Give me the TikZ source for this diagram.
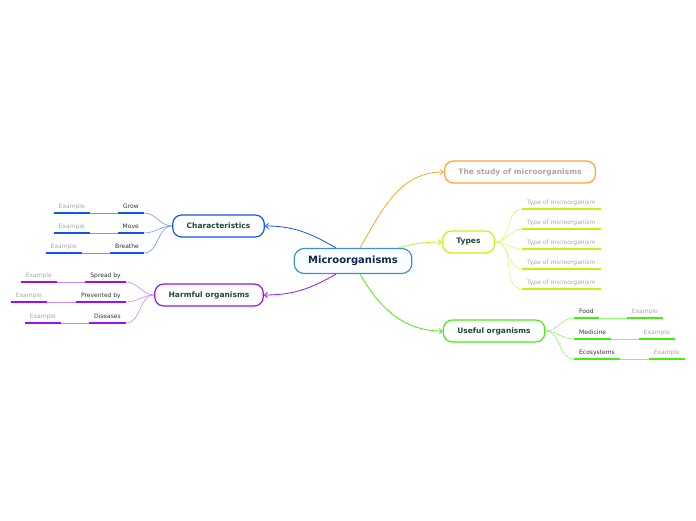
\documentclass[tikz,border=0pt]{standalone}
\usepackage{fontspec}
\setmainfont{DejaVu Sans}
\usepackage{tikz}
\usetikzlibrary{arrows.meta,positioning}
\definecolor{centerblue}{HTML}{3D8FD6}
\definecolor{centerfill}{HTML}{FAFDFF}
\definecolor{navy}{HTML}{14264F}
\definecolor{darkteal}{HTML}{1A4A3C}
\definecolor{studyorange}{HTML}{FFA42C}
\definecolor{typesyellow}{HTML}{CCEE11}
\definecolor{usefulgreen}{HTML}{44EE11}
\definecolor{charblue}{HTML}{1155EE}
\definecolor{harmpurple}{HTML}{9911EE}
\definecolor{leafgray}{HTML}{A8A8A8}
\definecolor{leafdark}{HTML}{333333}
\tikzset{
	central/.style={
		draw=centerblue, fill=centerfill, line width=1.2pt,
		rounded corners=10pt, minimum height=25pt, inner xsep=14pt,
		font=\fontsize{10}{12}\selectfont\bfseries, text=navy
	},
	branch/.style={
		draw=#1, fill=white, line width=1.2pt,
		rounded corners=9pt, minimum height=22pt, inner xsep=14pt,
		font=\fontsize{7.5}{9}\selectfont\bfseries, text=darkteal
	},
	leaf/.style={
		inner xsep=5pt, inner ysep=2.5pt, text height=1.5ex, text depth=.4ex,
		font=\fontsize{6}{7}\selectfont, text=leafdark,
		append after command={(\tikzlastnode.south west) edge[draw=#1, line width=2pt] (\tikzlastnode.south east)}
	},
	example/.style={leaf=#1, text=leafgray},
	mainlink/.style={draw=#1, line width=.8pt, -{Straight Barb[length=3pt,width=5pt]}},
	leaflink/.style={draw=#1, line width=.6pt}
}

\begin{document}
\begin{tikzpicture}[x=1pt,y=1pt]
  \useasboundingbox (0,0) rectangle (696,520);
  \node[central] (micro) at (353,259) {Microorganisms};
  \node[branch=studyorange, text=leafgray] (study) at (520,348) {The study of microorganisms};
  \node[branch=typesyellow] (types) at (468.5,278) {Types};
  \node[branch=usefulgreen] (useful) at (494,189) {Useful organisms};
  \node[branch=charblue] (charac) at (218.5,294) {Characteristics};
  \node[branch=harmpurple] (harmful) at (209,225) {Harmful organisms};
  \draw[mainlink=studyorange] ([xshift=7pt]micro.north) to[out=60,in=180] (study.west);
  \draw[mainlink=typesyellow] ([xshift=-14pt]micro.north east) to[out=15,in=180] (types.west);
  \draw[mainlink=usefulgreen] ([xshift=7pt]micro.south) to[out=-60,in=180] (useful.west);
  \draw[mainlink=charblue] ([xshift=-17pt]micro.north) to[out=150,in=0] (charac.east);
  \draw[mainlink=harmpurple] ([xshift=-17pt]micro.south) to[out=-150,in=0] (harmful.east);

  \foreach \y [count=\i] in {311,291,271,251,231}{
    \node[example=typesyellow, anchor=south west] (type\i) at (522,\y) {Type of microorganism};
    \draw[leaflink=typesyellow!60] (types.east) to[out=0,in=180] (type\i.south west);
  }

  \node[leaf=usefulgreen, anchor=south west] (food) at (574,202) {Food};
  \node[example=usefulgreen, anchor=south east] (foodex) at (663,202) {Example};
  \node[leaf=usefulgreen, anchor=south west] (medicine) at (574,181) {Medicine};
  \node[example=usefulgreen, anchor=south east] (medicineex) at (675,181) {Example};
  \node[leaf=usefulgreen, anchor=south west] (eco) at (574,161) {Ecosystems};
  \node[example=usefulgreen, anchor=south east] (ecoex) at (685,161) {Example};
  \foreach \n in {food,medicine,eco}{
    \draw[leaflink=usefulgreen!60] (useful.east) to[out=0,in=180] (\n.south west);
    \draw[leaflink=usefulgreen!60] (\n.south east) -- (\n ex.south west);
  }

  \node[leaf=charblue, anchor=south east] (grow) at (144,307) {Grow};
  \node[example=charblue, anchor=south east] (growex) at (90,307) {Example};
  \node[leaf=charblue, anchor=south east] (move) at (144,287) {Move};
  \node[example=charblue, anchor=south east] (moveex) at (90,287) {Example};
  \node[leaf=charblue, anchor=south east] (breathe) at (144,267) {Breathe};
  \node[example=charblue, anchor=south east] (breatheex) at (82,267) {Example};
  \foreach \n in {grow,move,breathe}{
    \draw[leaflink=charblue!60] (charac.west) to[out=180,in=0] (\n.south east);
    \draw[leaflink=charblue!60] (\n.south west) -- (\n ex.south east);
  }

  \node[leaf=harmpurple, anchor=south east] (spread) at (126,238) {Spread by};
  \node[example=harmpurple, anchor=south east] (spreadex) at (57,238) {Example};
  \node[leaf=harmpurple, anchor=south east] (prevented) at (126,218) {Prevented by};
  \node[example=harmpurple, anchor=south east] (preventedex) at (47,218) {Example};
  \node[leaf=harmpurple, anchor=south east] (diseases) at (126,197) {Diseases};
  \node[example=harmpurple, anchor=south east] (diseasesex) at (61,197) {Example};
  \foreach \n in {spread,prevented,diseases}{
    \draw[leaflink=harmpurple!50] (harmful.west) to[out=180,in=0] (\n.south east);
    \draw[leaflink=harmpurple!50] (\n.south west) -- (\n ex.south east);
  }
\end{tikzpicture}
\end{document}
